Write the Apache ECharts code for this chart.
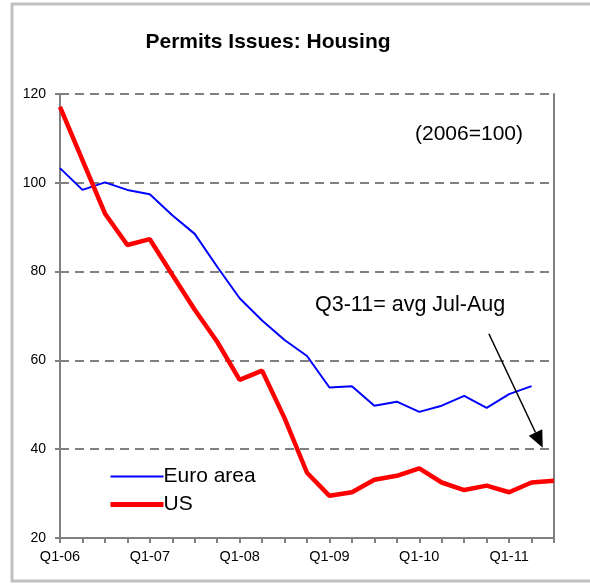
<!DOCTYPE html>
<html>
<head>
<meta charset="utf-8">
<script src="https://cdn.jsdelivr.net/npm/echarts@6/dist/echarts.min.js"></script>
<style>
html,body{margin:0;padding:0;background:#fff;}
#main{width:590px;height:585px;}
</style>
</head>
<body>
<div id="main"></div>
<script>
var quarters = ['Q1-06','Q2-06','Q3-06','Q4-06','Q1-07','Q2-07','Q3-07','Q4-07',
	'Q1-08','Q2-08','Q3-08','Q4-08','Q1-09','Q2-09','Q3-09','Q4-09',
	'Q1-10','Q2-10','Q3-10','Q4-10','Q1-11','Q2-11','Q3-11'];
var euroArea = [103.3, 98.4, 100.1, 98.4, 97.4, 92.7, 88.5, 81.1, 74.0, 69.0, 64.6, 61.0,
	53.9, 54.2, 49.8, 50.7, 48.4, 49.8, 52.0, 49.3, 52.4, 54.2, null];
var us = [117.1, 105.1, 93.1, 86.0, 87.3, 79.3, 71.4, 64.2, 55.6, 57.7, 47.0, 34.7,
	29.5, 30.3, 33.1, 34.0, 35.7, 32.5, 30.8, 31.8, 30.3, 32.5, 32.9];

var font = '"Liberation Sans", Arial, sans-serif';
var gray = '#808080';

var myChart = echarts.init(document.getElementById('main'));
var option = {
	animation: false,
	backgroundColor: '#fff',
	title: {
		text: 'Permits Issues: Housing',
		left: 263,
		top: 27,
		textAlign: 'center',
		textStyle: { fontFamily: font, fontSize: 21, fontWeight: 'bold', color: '#000' }
	},
	legend: {
		orient: 'vertical',
		left: 103,
		top: 461,
		itemWidth: 53,
		itemHeight: 14,
		itemGap: 7,
		itemStyle: { opacity: 0 },
		textStyle: { fontFamily: font, fontSize: 21, color: '#000', padding: [0, 0, 0, -5] },
		data: [
			{ name: 'Euro area', lineStyle: { width: 2 } },
			{ name: 'US', lineStyle: { width: 5 } }
		]
	},
	grid: { left: 60, right: 36, top: 94, bottom: 47, containLabel: false },
	xAxis: {
		type: 'category',
		data: quarters,
		boundaryGap: false,
		axisLine: { lineStyle: { color: gray, width: 2 } },
		axisTick: { show: true, interval: 0, length: 5, lineStyle: { color: gray, width: 2 } },
		axisLabel: { interval: 3, margin: 11, color: '#000', fontFamily: font, fontSize: 14.5 },
		splitLine: { show: false }
	},
	yAxis: [{
		type: 'value',
		min: 20,
		max: 120,
		interval: 20,
		axisLine: { show: true, lineStyle: { color: gray, width: 2 } },
		axisTick: { show: true, length: 5, lineStyle: { color: gray, width: 2 } },
		axisLabel: { margin: 14, color: '#000', fontFamily: font, fontSize: 14 },
		splitLine: { lineStyle: { color: gray, width: 2, type: [9, 6] } }
	}, {
		// right frame line only
		type: 'value',
		position: 'right',
		min: 20,
		max: 120,
		interval: 20,
		axisLine: { show: true, lineStyle: { color: gray, width: 2 } },
		axisTick: { show: false },
		axisLabel: { show: false },
		splitLine: { show: false }
	}],
	series: [{
		name: 'Euro area',
		type: 'line',
		data: euroArea,
		showSymbol: false,
		symbol: 'none',
		lineStyle: { color: '#0000ff', width: 2 },
		itemStyle: { color: '#0000ff' }
	}, {
		name: 'US',
		type: 'line',
		data: us,
		showSymbol: false,
		symbol: 'none',
		lineStyle: { color: '#ff0000', width: 4.5 },
		itemStyle: { color: '#ff0000' },
		z: 3
	}]
};
myChart.setOption(option);

// arrow for annotation, placed between category positions
function px(idx, val) {
	var i0 = Math.floor(idx);
	var f = idx - i0;
	var a = myChart.convertToPixel({ gridIndex: 0 }, [i0, val]);
	var b = myChart.convertToPixel({ gridIndex: 0 }, [i0 + 1, val]);
	return [a[0] + (b[0] - a[0]) * f, a[1]];
}
var p1 = px(19.1, 66.0);
var p2 = px(21.5, 40.3);
var ang = Math.atan2(p2[1] - p1[1], p2[0] - p1[0]);
var hl = 17, hw = 7.5;
var bx = p2[0] - hl * Math.cos(ang), by = p2[1] - hl * Math.sin(ang);
var head = [
	p2,
	[bx + hw * Math.sin(ang), by - hw * Math.cos(ang)],
	[bx - hw * Math.sin(ang), by + hw * Math.cos(ang)]
];

myChart.setOption({
	graphic: [{
		type: 'rect',
		shape: { x: 12, y: 4, width: 600, height: 577 },
		style: { fill: 'none', stroke: '#c0c0c0', lineWidth: 3 },
		silent: true
	}, {
		type: 'text',
		left: 415,
		top: 124,
		style: { text: '(2006=100)', fontFamily: font, fontSize: 21, fill: '#000' }
	}, {
		type: 'text',
		left: 315,
		top: 294,
		style: { text: 'Q3-11= avg Jul-Aug', fontFamily: font, fontSize: 21.5, fill: '#000' }
	}, {
		type: 'line',
		shape: { x1: p1[0], y1: p1[1], x2: bx, y2: by },
		style: { stroke: '#000', lineWidth: 1.5 },
		z: 10
	}, {
		type: 'polygon',
		shape: { points: head },
		style: { fill: '#000' },
		z: 10
	}]
});
</script>
</body>
</html>
